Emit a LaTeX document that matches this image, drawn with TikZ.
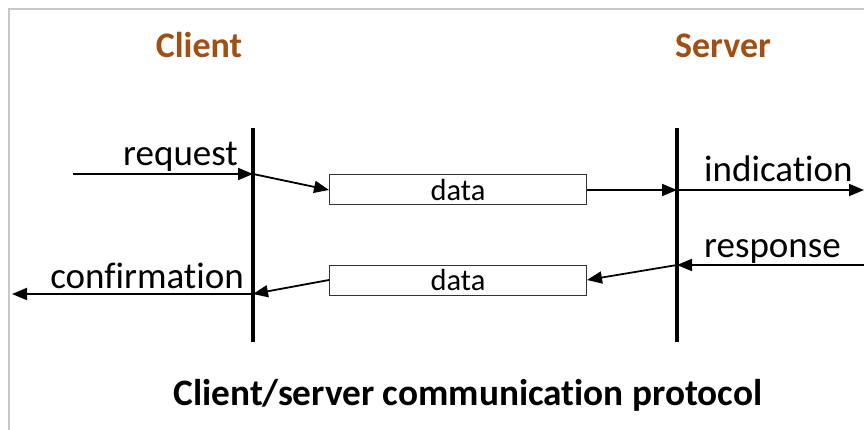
\documentclass[tikz,border=0pt]{standalone}
\usepackage{fontspec}
\setmainfont{Carlito}[RawFeature=-liga]
\usetikzlibrary{arrows.meta}
\definecolor{rolebrown}{RGB}{160,80,20}
\definecolor{framegray}{RGB}{200,200,200}
\tikzset{
  lifeline/.style={line width=3.6pt},
  msg/.style={line width=1.8pt,-{Triangle[length=15pt,width=12pt]}},
  pdu/.style={draw=black!80,line width=1pt,fill=white,minimum width=257pt,minimum height=30pt,inner sep=0pt,font=\fontsize{30.5}{33}\selectfont},
  role/.style={font=\fontsize{36}{40}\selectfont\bfseries,text=rolebrown,inner sep=0pt,anchor=base},
  lbl/.style={font=\fontsize{37}{40}\selectfont,inner sep=0pt},
  caption/.style={font=\fontsize{37.3}{40}\selectfont\bfseries,inner sep=0pt,anchor=base}
}
\begin{document}
\begin{tikzpicture}[x=1pt,y=-1pt]
  \useasboundingbox[fill=white] (0,0) rectangle (864,430);
  % outer frame (open to the right and bottom)
  \draw[framegray,line width=2pt] (8.5,432) -- (8.5,9) -- (866,9);

  % role headings
  \node[role] (client) at (199,58) {Client};
  \node[role] (server) at (723,58) {Server};

  % lifelines
  \coordinate (cTop) at (253,128);
  \coordinate (cBot) at (253,342);
  \coordinate (sTop) at (677,128);
  \coordinate (sBot) at (677,342);
  \draw[lifeline] (cTop) -- (cBot);
  \draw[lifeline] (sTop) -- (sBot);

  % data units in transit
  \node[pdu] (box1) at (458,190) {data};
  \node[pdu] (box2) at (458,280) {data};

  % service primitives
  \coordinate (reqStart) at (73,174);
  \coordinate (cReq) at (253,174);
  \coordinate (sInd) at (677,190);
  \coordinate (indEnd) at (864,190);
  \coordinate (respStart) at (864,265);
  \coordinate (sResp) at (677,265);
  \coordinate (cConf) at (253,294);
  \coordinate (confEnd) at (12,294);

  \draw[msg] (reqStart) -- (cReq);
  \draw[msg] (cReq) -- (box1.west);
  \draw[msg] (box1.east) -- (sInd);
  \draw[msg] (sInd) -- (indEnd);
  \draw[msg] (respStart) -- (sResp);
  \draw[msg] (sResp) -- (box2.east);
  \draw[msg] (box2.west) -- (cConf);
  \draw[msg] (cConf) -- (confEnd);

  % primitive labels
  \node[lbl,anchor=base east] (reqL) at (238,166) {request};
  \node[lbl,anchor=base west] (indL) at (704,182) {indication};
  \node[lbl,anchor=base west] (respL) at (704,258) {response};
  \node[lbl,anchor=base east] (confL) at (244,288) {confirmation};

  % caption
  \node[caption] (title) at (468,405) {Client/server communication protocol};
\end{tikzpicture}
\end{document}
